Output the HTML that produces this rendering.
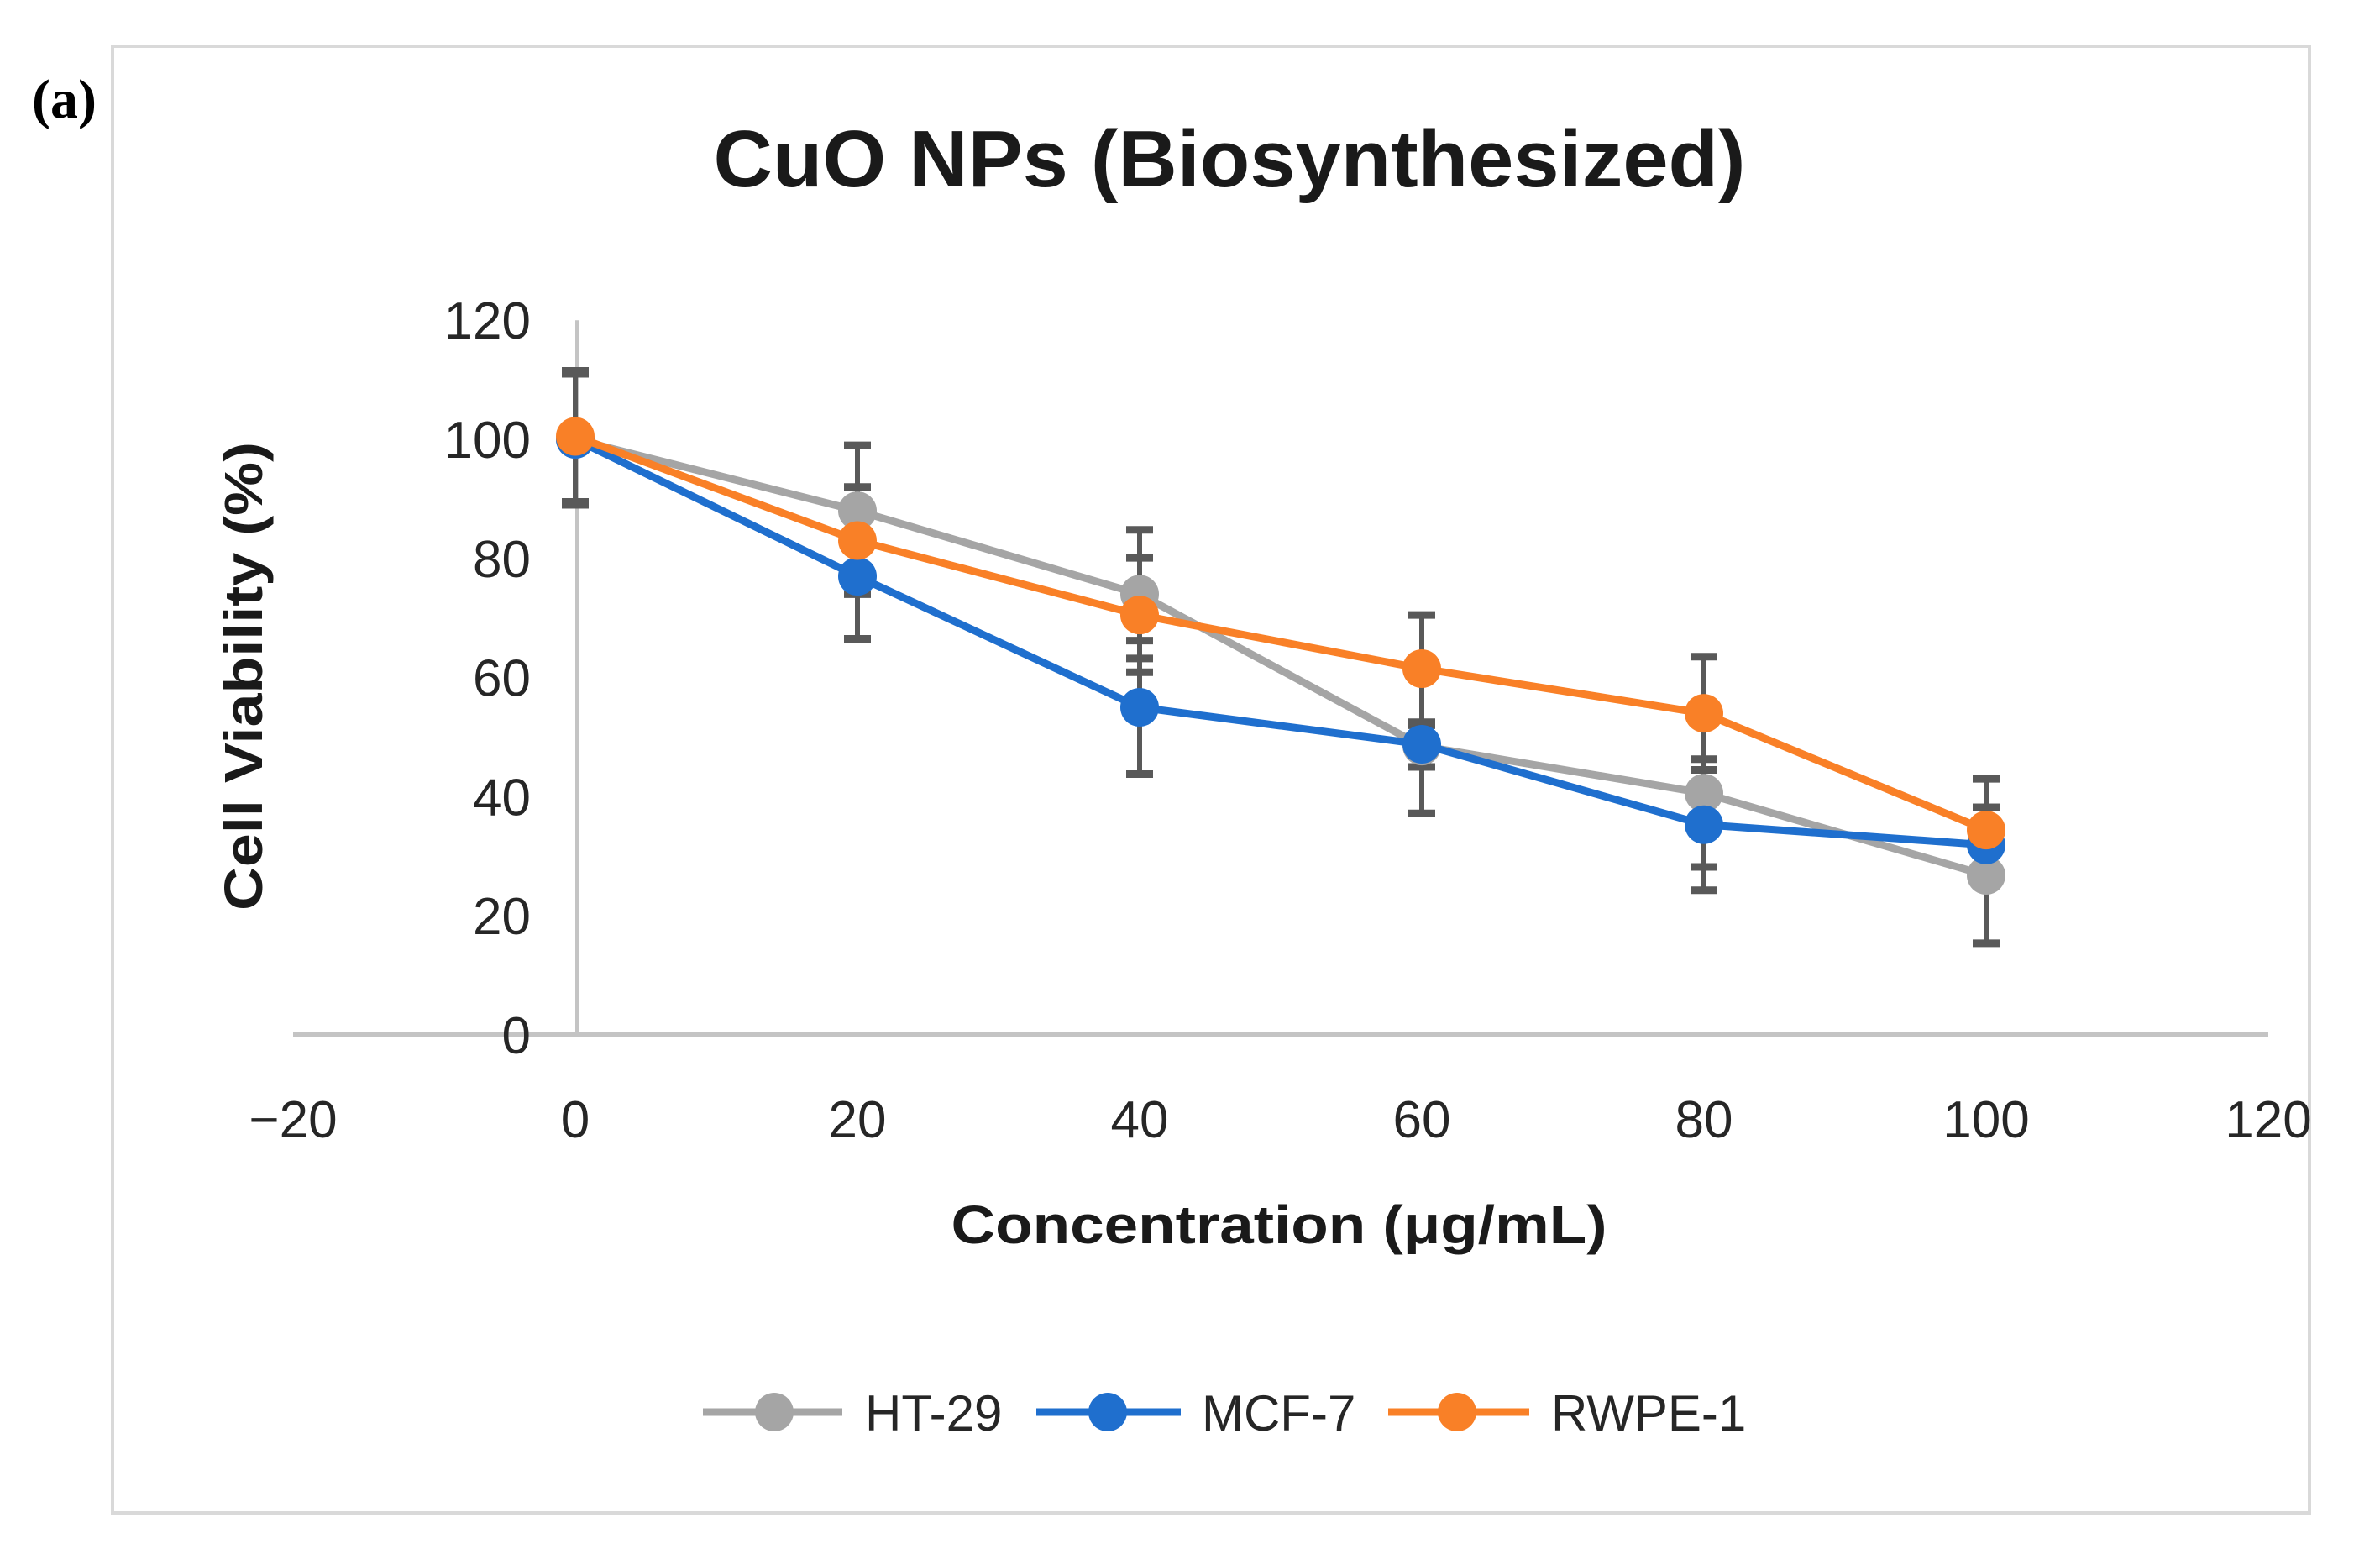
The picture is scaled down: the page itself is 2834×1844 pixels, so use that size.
<!DOCTYPE html>
<html><head><meta charset="utf-8"><style>
html,body{margin:0;padding:0;background:#fff}
svg{display:block}
text{font-family:"Liberation Sans",sans-serif}
</style></head><body>
<svg id="chart" width="2834" height="1844" viewBox="0 0 2834 1844">
<text x="38" y="140" font-size="66" font-weight="bold" fill="#000" style="font-family:'Liberation Serif',serif">(a)</text>
<rect x="134" y="55" width="2616" height="1746" fill="none" stroke="#d9d9d9" stroke-width="4"/>
<text x="1464" y="222" text-anchor="middle" font-size="96" font-weight="bold" fill="#1a1a1a" textLength="1229" lengthAdjust="spacingAndGlyphs">CuO NPs (Biosynthesized)</text>
<text transform="translate(312,805) rotate(-90)" text-anchor="middle" font-size="64" font-weight="bold" fill="#1a1a1a" textLength="558" lengthAdjust="spacingAndGlyphs">Cell Viability (%)</text>
<text x="1523" y="1480" text-anchor="middle" font-size="64" font-weight="bold" fill="#1a1a1a" textLength="781" lengthAdjust="spacingAndGlyphs">Concentration (μg/mL)</text>
<g id="axes"></g>
<g id="series"></g>
<g id="legend"></g>
</svg>
<script>
const xTicks=[-20,0,20,40,60,80,100,120];
const yTicks=[0,20,40,60,80,100,120];
const conc=[0,20,40,60,80,100];
const names=["HT-29","MCF-7","RWPE-1"];
const colors=["#a5a5a5","#1f6fce","#f98027"];
const ht29=[100,88,74,48.5,40.6,26.8];
const mcf7=[100,77,55,48.8,35.3,31.9];
const rwpe1=[100.5,83,70.5,61.5,54,34.4];
const ht29Err=[11,11,10.8,3.5,12.4,11.4];
const mcf7Err=[11,10.5,11.2,11.6,11,6.3];
const rwpe1Err=[11,9,9.6,9,9.5,8.6];
const values=[ht29,mcf7,rwpe1];
const errs=[ht29Err,mcf7Err,rwpe1Err];
const NS="http://www.w3.org/2000/svg";
function X(v){return 685+v*16.8;}
function Y(v){return 1232-v*7.09;}
function mk(tag,attrs,parent){const e=document.createElementNS(NS,tag);for(const k in attrs)e.setAttribute(k,attrs[k]);parent.appendChild(e);return e;}
const axes=document.getElementById('axes');
let l=mk('line',{x1:X(0)+2,y1:Y(120),x2:X(0)+2,y2:Y(0),stroke:'#c4c4c4','stroke-width':4},axes);


l=mk('line',{x1:X(-20),y1:Y(0),x2:X(120),y2:Y(0),stroke:'#c4c4c4','stroke-width':6},axes);


yTicks.forEach(t=>{const e=mk('text',{x:632,y:Y(t)+22,'text-anchor':'end','font-size':62,fill:'#262626'},axes);e.textContent=t;

});
xTicks.forEach(t=>{const e=mk('text',{x:X(t),y:1354,'text-anchor':'middle','font-size':62,fill:'#262626'},axes);e.textContent=t<0?'\u2212'+(-t):t;

});
const ser=document.getElementById('series');
values.forEach((vals,s)=>{vals.forEach((v,i)=>{const g=mk('g',{},ser);


const x=X(conc[i]),y1=Y(v+errs[s][i]),y2=Y(v-errs[s][i]);
mk('line',{x1:x,y1:y1,x2:x,y2:y2,stroke:'#595959','stroke-width':6},g);
mk('line',{x1:x-16,y1:y1,x2:x+16,y2:y1,stroke:'#595959','stroke-width':9},g);
mk('line',{x1:x-16,y1:y2,x2:x+16,y2:y2,stroke:'#595959','stroke-width':9},g);});});
values.forEach((vals,s)=>{const g=mk('g',{},ser);


const p=mk('polyline',{points:vals.map((v,i)=>X(conc[i])+','+Y(v)).join(' '),fill:'none',stroke:colors[s],'stroke-width':9,'stroke-linejoin':'round'},g);


vals.forEach((v,i)=>{const c=mk('circle',{cx:X(conc[i]),cy:Y(v),r:23,fill:colors[s]},g);

});});
const leg=document.getElementById('legend');
const legX=[[837,1003,922,1030],[1234,1406,1319,1431],[1653,1821,1735,1847]];
names.forEach((n,s)=>{const g=mk('g',{},leg);


const a=legX[s];
mk('line',{x1:a[0],y1:1681,x2:a[1],y2:1681,stroke:colors[s],'stroke-width':9},g);
mk('circle',{cx:a[2],cy:1681,r:23,fill:colors[s]},g);
const t=mk('text',{x:a[3],y:1703,'font-size':60,fill:'#262626'},g);t.textContent=n;});
</script>
</body></html>
